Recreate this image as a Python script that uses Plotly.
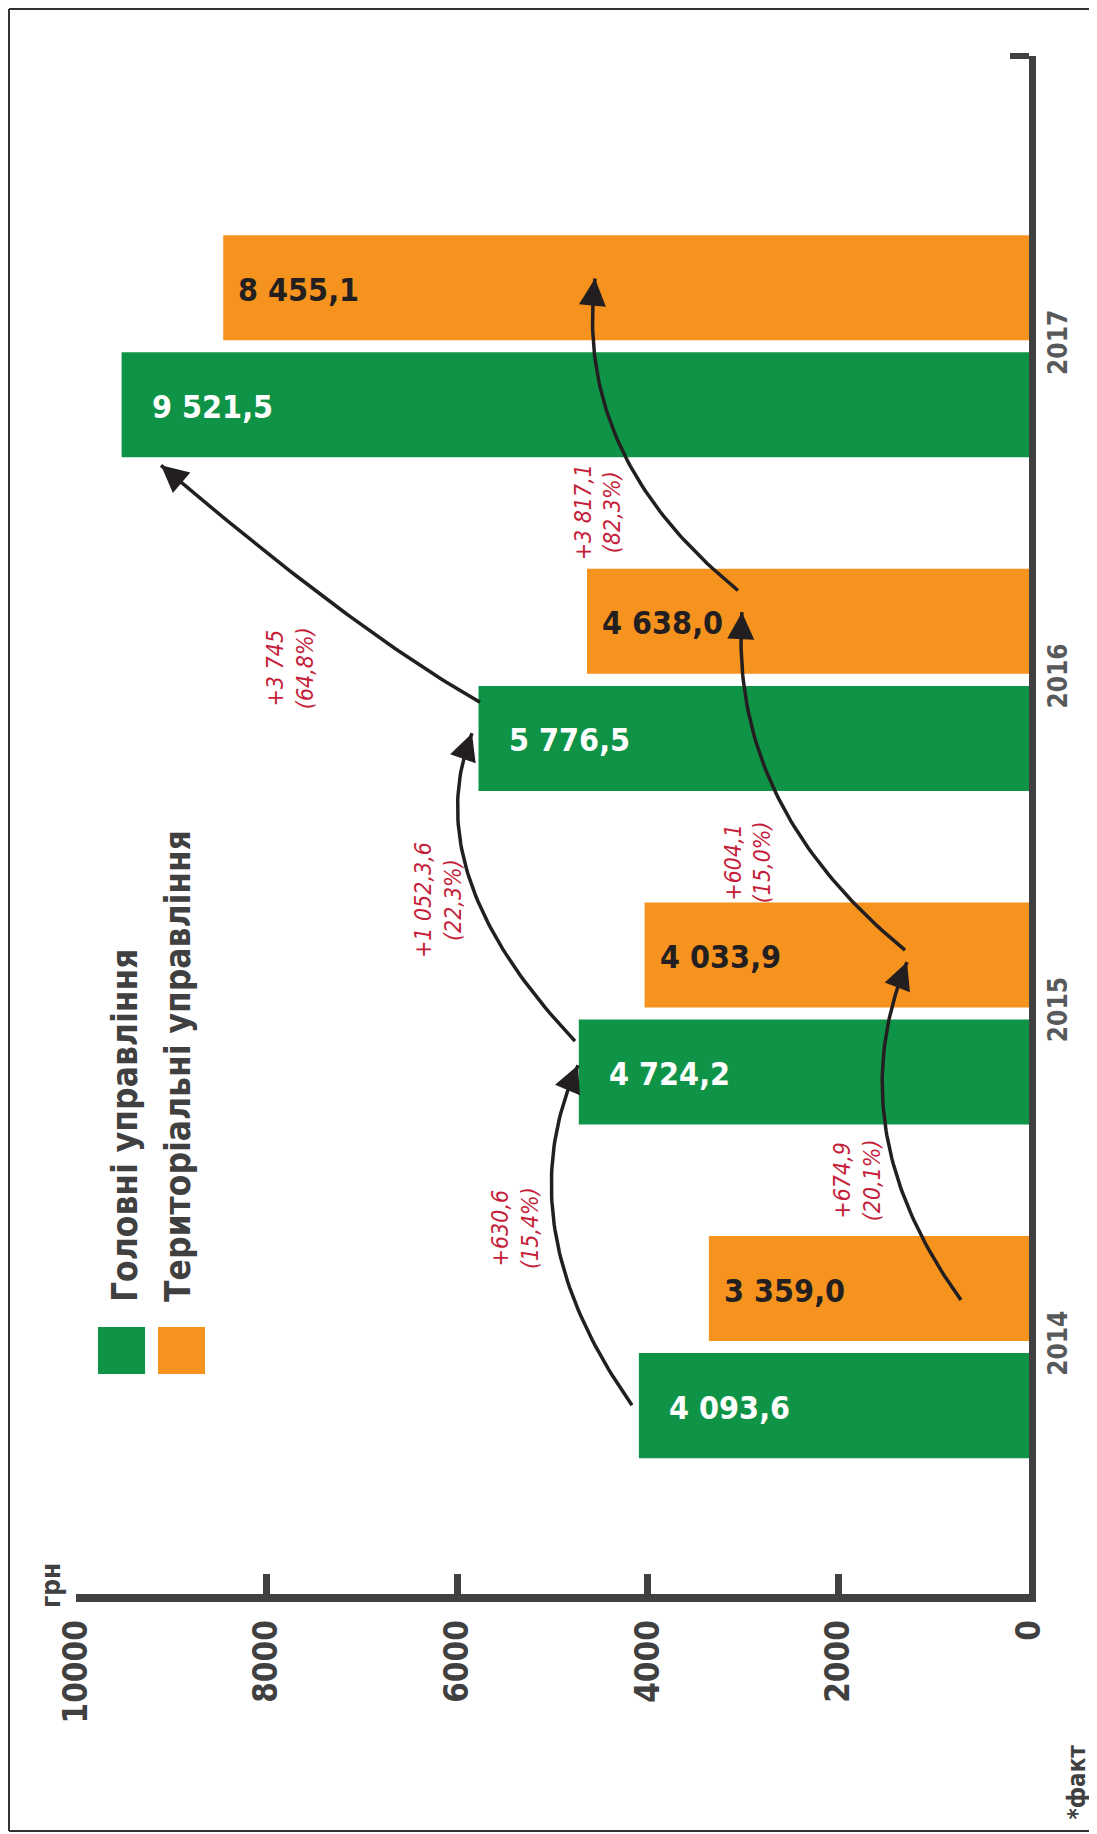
import plotly.graph_objects as go

# ---------------- data ----------------
years = ["2014", "2015", "2016", "2017"]
head_offices = [4093.6, 4724.2, 5776.5, 9521.5]      # Головні управління
territorial = [3359.0, 4033.9, 4638.0, 8455.1]       # Територіальні управління
series_names = ["Головні управління", "Територіальні управління"]
x_ticks = [0, 2000, 4000, 6000, 8000, 10000]
head_changes = ["+630,6<br>(15,4%)", "+1 052,3,6<br>(22,3%)", "+3 745<br>(64,8%)"]
terr_changes = ["+674,9<br>(20,1%)", "+604,1<br>(15,0%)", "+3 817,1<br>(82,3%)"]

# ---------------- style / layout constants ----------------
GREEN = "#0f9447"
ORANGE = "#f6921e"
DARK = "#404040"
YEARGRAY = "#58595b"
INK = "#231f20"
RED = "#c41e3a"
FONT = "Liberation Sans Narrow, DejaVu Sans Condensed, Arial Narrow, sans-serif"

BAR_W = 0.315
GAP = 0.036
G_OFF = -(GAP / 2 + BAR_W)     # green bar offset (below group centre)
O_OFF = GAP / 2                # orange bar offset (above group centre)
G_MID = G_OFF + BAR_W / 2
O_MID = O_OFF + BAR_W / 2

# arrow geometry (quadratic Bezier: start, control, end) in axis units
head_arrows = [
    [(4166, -0.174), (5498, 0.366), (4732, 0.845)],
    [(4764, 0.917), (6427, 1.420), (5845, 1.840)],
    [(5761, 1.933), (7046, 2.141), (9108, 2.643)],
]
terr_arrows = [
    [(714, 0.141), (2004, 0.653), (1280, 1.154)],
    [(1301, 1.190), (3153, 1.624), (3012, 2.203)],
    [(3054, 2.268), (4780, 2.670), (4554, 3.203)],
]
head_change_pos = [(5393, 0.357), (6201, 1.340), (7755, 2.035)]
terr_change_pos = [(1805, 0.500), (2949, 1.453), (4523, 2.502)]


def fmt(v):
    return f"{v:,.1f}".replace(",", " ").replace(".", ",")


def bez(p, t):
    (x0, y0), (x1, y1), (x2, y2) = p
    a, b, c = (1 - t) ** 2, 2 * (1 - t) * t, t ** 2
    return a * x0 + b * x1 + c * x2, a * y0 + b * y1 + c * y2


pos = list(range(len(years)))

fig = go.Figure()
fig.add_trace(go.Bar(x=head_offices, y=pos, orientation="h", width=BAR_W, offset=G_OFF,
                     marker=dict(color=GREEN, line=dict(width=0)), name=series_names[0],
                     hoverinfo="skip"))
fig.add_trace(go.Bar(x=territorial, y=pos, orientation="h", width=BAR_W, offset=O_OFF,
                     marker=dict(color=ORANGE, line=dict(width=0)), name=series_names[1],
                     hoverinfo="skip"))

annotations = []
# value labels
for i, v in enumerate(head_offices):
    annotations.append(dict(x=v, y=i + G_MID, xref="x", yref="y", text=fmt(v), showarrow=False,
                            xanchor="left", yanchor="middle", xshift=28, yshift=-2,
                            font=dict(family=FONT, size=32, color="white", weight="bold")))
for i, v in enumerate(territorial):
    annotations.append(dict(x=v, y=i + O_MID, xref="x", yref="y", text=fmt(v), showarrow=False,
                            xanchor="left", yanchor="middle", xshift=13, yshift=-2,
                            font=dict(family=FONT, size=32, color=INK, weight="bold")))

# arrows
for arr in head_arrows + terr_arrows:
    n = 60
    pts = [bez(arr, k / n) for k in range(n + 1)]
    fig.add_trace(go.Scatter(x=[p[0] for p in pts], y=[p[1] for p in pts], mode="lines",
                             line=dict(color=INK, width=3.5), hoverinfo="skip", showlegend=False))
    tx, ty = bez(arr, 0.95)
    annotations.append(dict(x=arr[2][0], y=arr[2][1], ax=tx, ay=ty, xref="x", yref="y",
                            axref="x", ayref="y", text="", showarrow=True, arrowhead=2,
                            arrowsize=1.8, arrowwidth=3, arrowcolor=INK, standoff=0))

# change labels
for txt, (cx, cy) in zip(head_changes + terr_changes, head_change_pos + terr_change_pos):
    annotations.append(dict(x=cx, y=cy, xref="x", yref="y", text=txt, showarrow=False,
                            textangle=-90, align="center", xanchor="center", yanchor="middle",
                            font=dict(family=FONT, size=23, color=RED, style="italic")))

# legend (rotated text)
leg_x = [0.0231, 0.0860]
leg_text_x = [0.052, 0.107]
shapes = []
for k, col in enumerate([GREEN, ORANGE]):
    shapes.append(dict(type="rect", xref="paper", yref="paper", x0=leg_x[k], x1=leg_x[k] + 0.0494,
                       y0=0.1430, y1=0.1736, fillcolor=col, line=dict(width=0)))
    annotations.append(dict(x=leg_text_x[k], y=0.1886, xref="paper", yref="paper",
                            text=series_names[k], showarrow=False, textangle=-90,
                            xanchor="center", yanchor="bottom",
                            font=dict(family=FONT, size=35, color=DARK, weight="bold")))

annotations.append(dict(x=-0.0262, y=0.0052, xref="paper", yref="paper", text="грн",
                        showarrow=False, textangle=-90, xanchor="center", yanchor="middle",
                        font=dict(family=FONT, size=26, color=DARK, weight="bold")))
annotations.append(dict(x=1.050, y=-0.1222, xref="paper", yref="paper", text="*факт",
                        showarrow=False, textangle=-90, xanchor="center", yanchor="middle",
                        font=dict(family=FONT, size=24, color=DARK, weight="bold")))

# top end tick of the category axis
shapes.append(dict(type="line", xref="paper", yref="paper", xsizemode="pixel", xanchor=1,
                   x0=-19, x1=0, y0=1, y1=1, line=dict(color=DARK, width=6)))
# frame (top, left, bottom)
FL, FT, FB, FR = -0.0703, 1.0306, -0.1541, 1.09
for x0, y0, x1, y1 in [(FL, FT, FR, FT), (FL, FT, FL, FB), (FL, FB, FR, FB)]:
    shapes.append(dict(type="line", xref="paper", yref="paper", x0=x0, y0=y0, x1=x1, y1=y1,
                       line=dict(color="#333333", width=2)))

# page body has an 8px default margin, so the margins are reduced by 8px on the left/top
fig.update_layout(
    width=1097, height=1834,
    margin=dict(l=68, r=76, t=48, b=248, autoexpand=False),
    paper_bgcolor="white", plot_bgcolor="white",
    barmode="overlay", showlegend=False,
    annotations=annotations, shapes=shapes,
    xaxis=dict(range=[10000, 0], tickvals=x_ticks, ticktext=[str(t) for t in x_ticks],
               tickangle=-90, ticks="inside", ticklen=20, tickwidth=7, tickcolor=DARK,
               showline=True, linewidth=8, linecolor=DARK, showgrid=False, zeroline=False,
               ticklabelstandoff=5, automargin=False,
               tickfont=dict(family=FONT, size=33, color=DARK, weight="bold")),
    yaxis=dict(range=[-0.74, 3.87], tickvals=pos, ticktext=years, side="right",
               tickangle=-90, ticks="", showline=True, linewidth=7, linecolor=DARK,
               showgrid=False, zeroline=False, automargin=False, ticklabelstandoff=0,
               tickfont=dict(family=FONT, size=26, color=YEARGRAY, weight="bold")),
)

fig.write_html("out.html")
